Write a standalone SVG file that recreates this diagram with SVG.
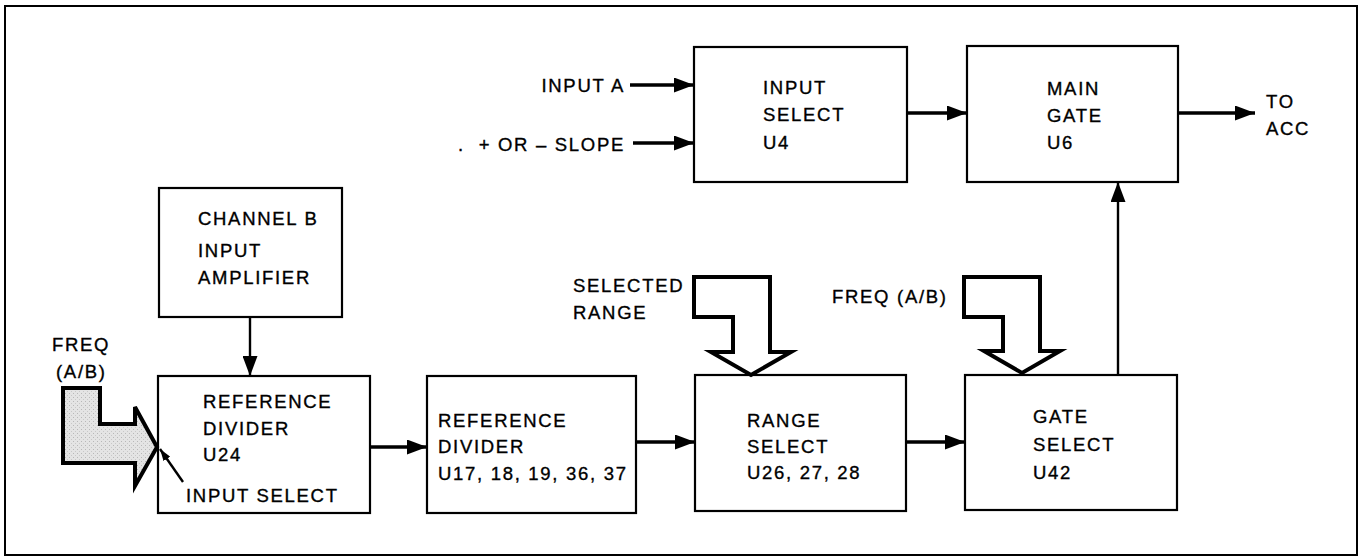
<svg xmlns="http://www.w3.org/2000/svg" width="1363" height="557" viewBox="0 0 1363 557">
<defs>
<style>
.box{fill:#fff;stroke:#000;stroke-width:2.2}
.t{font-family:"Liberation Sans",Arial,sans-serif;font-size:18.5px;letter-spacing:1.7px;fill:#000;stroke:#000;stroke-width:0.35}
.w{stroke:#000;stroke-width:3.6;fill:none}
.n{stroke:#000;stroke-width:2.4;fill:none}
.fat{stroke:#000;stroke-width:4;stroke-linejoin:miter}
</style>
<marker id="ah" markerUnits="userSpaceOnUse" markerWidth="20" markerHeight="15" refX="20" refY="7.5" orient="auto">
<path d="M0,0 L20,7.5 L0,15 z" fill="#000"/>
</marker>
<marker id="sh" markerUnits="userSpaceOnUse" markerWidth="12" markerHeight="8" refX="12" refY="4" orient="auto">
<path d="M0,0 L12,4 L0,8 z" fill="#000"/>
</marker>
<pattern id="dots" width="4" height="4" patternUnits="userSpaceOnUse">
<rect width="4" height="4" fill="#e4e4e4"/>
<rect x="1" y="1" width="1" height="1" fill="#b8b8b8"/>
<rect x="3" y="3" width="1" height="1" fill="#c8c8c8"/>
</pattern>
</defs>
<rect x="0" y="0" width="1363" height="557" fill="#fff"/>
<rect id="frame" x="5" y="6" width="1352" height="549" fill="none" stroke="#000" stroke-width="2"/>

<g id="input-select">
<rect class="box" x="694" y="47" width="213" height="135"/>
<text class="t" x="763" y="94">INPUT</text>
<text class="t" x="763" y="121">SELECT</text>
<text class="t" x="763" y="149">U4</text>
</g>
<g id="main-gate">
<rect class="box" x="967" y="46" width="211" height="136"/>
<text class="t" x="1047" y="95">MAIN</text>
<text class="t" x="1047" y="122">GATE</text>
<text class="t" x="1047" y="149">U6</text>
</g>
<g id="channel-b">
<rect class="box" x="159" y="188" width="183" height="129"/>
<text class="t" x="198" y="225">CHANNEL B</text>
<text class="t" x="198" y="257">INPUT</text>
<text class="t" x="198" y="284">AMPLIFIER</text>
</g>
<g id="ref-divider-u24">
<rect class="box" x="158" y="376" width="212" height="137"/>
<text class="t" x="203" y="408">REFERENCE</text>
<text class="t" x="203" y="435">DIVIDER</text>
<text class="t" x="203" y="461">U24</text>
<text class="t" x="186" y="502">INPUT SELECT</text>
</g>
<g id="ref-divider-u17">
<rect class="box" x="427" y="376" width="209" height="137"/>
<text class="t" x="438" y="427">REFERENCE</text>
<text class="t" x="438" y="453">DIVIDER</text>
<text class="t" x="438" y="480">U17, 18, 19, 36, 37</text>
</g>
<g id="range-select">
<rect class="box" x="695" y="375" width="211" height="136"/>
<text class="t" x="747" y="427">RANGE</text>
<text class="t" x="747" y="453">SELECT</text>
<text class="t" x="747" y="479">U26, 27, 28</text>
</g>
<g id="gate-select">
<rect class="box" x="965" y="375" width="212" height="135"/>
<text class="t" x="1033" y="423">GATE</text>
<text class="t" x="1033" y="451">SELECT</text>
<text class="t" x="1033" y="479">U42</text>
</g>

<g id="labels">
<text class="t" x="625" y="92" text-anchor="end">INPUT A</text>
<text class="t" x="625" y="151" text-anchor="end" xml:space="preserve">.  + OR – SLOPE</text>
<text class="t" x="1266" y="108">TO</text>
<text class="t" x="1266" y="135">ACC</text>
<text class="t" x="573" y="292">SELECTED</text>
<text class="t" x="573" y="319">RANGE</text>
<text class="t" x="832" y="303">FREQ (A/B)</text>
<text class="t" x="52" y="351">FREQ</text>
<text class="t" x="56" y="378">(A/B)</text>
</g>

<g id="connectors">
<line class="w" x1="630" y1="85" x2="694" y2="85" marker-end="url(#ah)"/>
<line class="w" x1="633" y1="143" x2="694" y2="143" marker-end="url(#ah)"/>
<line class="w" x1="907" y1="113" x2="967" y2="113" marker-end="url(#ah)"/>
<line class="w" x1="1178" y1="113" x2="1255" y2="113" marker-end="url(#ah)"/>
<line class="n" x1="1118" y1="375" x2="1118" y2="182" marker-end="url(#ah)"/>
<line class="n" x1="250" y1="317" x2="250" y2="376" marker-end="url(#ah)"/>
<line class="w" x1="370" y1="447" x2="427" y2="447" marker-end="url(#ah)"/>
<line class="w" x1="636" y1="442" x2="695" y2="442" marker-end="url(#ah)"/>
<line class="w" x1="906" y1="442" x2="965" y2="442" marker-end="url(#ah)"/>
<line class="n" x1="183" y1="482" x2="160" y2="449" marker-end="url(#sh)"/>
<path class="fat" fill="url(#dots)" d="M63,388 L100,388 L100,424 L135,424 L135,407 L157,447 L135,486 L135,463 L63,463 Z"/>
<path class="fat" fill="#fff" d="M694,277 L770,277 L770,352 L791,352 L751,375 L711,352 L733,352 L733,317 L694,317 Z"/>
<path class="fat" fill="#fff" d="M964,277 L1040,277 L1040,351 L1060,351 L1022,373 L984,351 L1003,351 L1003,317 L964,317 Z"/>
</g>
</svg>
